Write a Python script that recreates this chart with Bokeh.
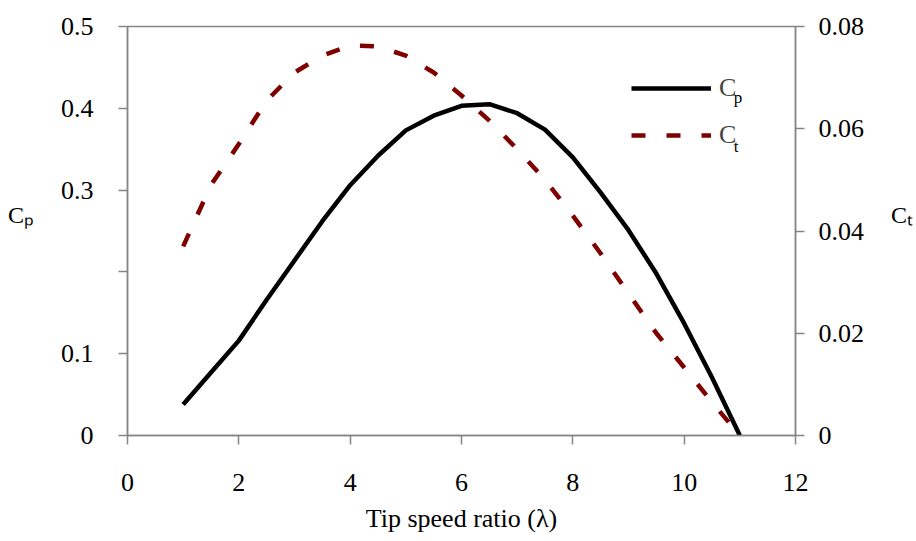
from bokeh.plotting import figure
from bokeh.models import Range1d, LinearAxis, FixedTicker, Legend, LegendItem, Label
from bokeh.embed import file_html
from bokeh.resources import INLINE

# ---- data ----
tsr = [1, 1.5, 2, 2.5, 3, 3.5, 4, 4.5, 5, 5.5, 6, 6.5, 7, 7.5, 8, 8.5, 9, 9.5, 10, 10.5, 11]
cp = [0.038, 0.077, 0.116, 0.166, 0.214, 0.262, 0.306, 0.342, 0.373, 0.391, 0.403, 0.405,
      0.394, 0.374, 0.340, 0.297, 0.251, 0.198, 0.137, 0.071, 0.0]
ct = [0.037, 0.049, 0.057, 0.0655, 0.071, 0.0743, 0.0763, 0.0761, 0.0743, 0.071, 0.0665,
      0.0616, 0.056, 0.050, 0.043, 0.0356, 0.0278, 0.020, 0.0133, 0.0065, 0.0]

x_ticks = [0, 2, 4, 6, 8, 10, 12]
cp_ticks = [0, 0.1, 0.2, 0.3, 0.4, 0.5]
cp_tick_labels = {0: "0", 0.1: "0.1", 0.2: "", 0.3: "0.3", 0.4: "0.4", 0.5: "0.5"}
ct_ticks = [0, 0.02, 0.04, 0.06, 0.08]
ct_tick_labels = {0: "0", 0.02: "0.02", 0.04: "0.04", 0.06: "0.06", 0.08: "0.08"}

FONT = "Liberation Serif"
AX = "#868686"
CT_COLOR = "#800000"

p = figure(width=916, height=541, x_range=Range1d(0, 12), y_range=Range1d(0, 0.5),
           output_backend="svg", toolbar_location=None,
           min_border_left=127, min_border_right=117, min_border_top=26, min_border_bottom=106)
p.extra_y_ranges = {"ct": Range1d(0, 0.08)}
p.xgrid.visible = False
p.ygrid.visible = False
p.outline_line_color = AX
p.outline_line_width = 1.5
p.background_fill_color = "white"
p.border_fill_color = "white"


def style_axis(ax, standoff):
    ax.axis_line_color = AX
    ax.axis_line_width = 1.5
    ax.major_tick_line_color = AX
    ax.major_tick_line_width = 1.5
    ax.major_tick_out = 9
    ax.major_tick_in = 0
    ax.minor_tick_line_color = None
    ax.major_label_text_font = FONT
    ax.major_label_text_font_size = "26px"
    ax.major_label_text_color = "black"
    ax.major_label_standoff = standoff
    ax.axis_label_text_font = FONT
    ax.axis_label_text_font_style = "normal"
    ax.axis_label_text_color = "black"


xa = p.xaxis[0]
xa.ticker = FixedTicker(ticks=x_ticks)
style_axis(xa, 29)
xa.axis_label = "Tip speed ratio (λ)"
xa.axis_label_text_font_size = "26px"
xa.axis_label_standoff = 10

ya = p.yaxis[0]
ya.ticker = FixedTicker(ticks=cp_ticks)
ya.major_label_overrides = cp_tick_labels
style_axis(ya, 25)
ya.axis_label = "Cₚ\n"
ya.axis_label_orientation = "horizontal"
ya.axis_label_text_font_size = "24px"
ya.axis_label_standoff = 24

ra = LinearAxis(y_range_name="ct", ticker=FixedTicker(ticks=ct_ticks))
ra.major_label_overrides = ct_tick_labels
style_axis(ra, 14)
ra.axis_label = "Cₜ\n"
ra.axis_label_orientation = "horizontal"
ra.axis_label_text_font_size = "24px"
ra.axis_label_standoff = 24
p.add_layout(ra, "right")

r_cp = p.line(tsr, cp, line_color="black", line_width=4.5)
r_ct = p.line(tsr, ct, y_range_name="ct", line_color=CT_COLOR, line_width=4.5,
              line_dash="14 21")

legend = Legend(items=[LegendItem(label="C", renderers=[r_cp]),
                       LegendItem(label="C", renderers=[r_ct])],
                location=(504, 285), border_line_color=None, background_fill_alpha=0,
                padding=0, margin=0, spacing=17, glyph_width=80, glyph_height=30,
                label_height=30, label_standoff=8, label_text_font=FONT,
                label_text_font_size="26px")
p.add_layout(legend)


def px_x(v):
    return (v - 127) / 56.0


def px_y(v):
    return (435 - v) / 818.0


def add_text(xp, yp, text, size, align="left"):
    p.add_layout(Label(x=px_x(xp), y=px_y(yp), text=text, text_font=FONT,
                       text_font_size=size, text_align=align, text_baseline="alphabetic",
                       text_color="black"))


# subscripts of legend labels
add_text(737, 97, "p", "17px")
add_text(737, 146, "t", "17px")

open("out.html", "w").write(file_html(p, INLINE))
